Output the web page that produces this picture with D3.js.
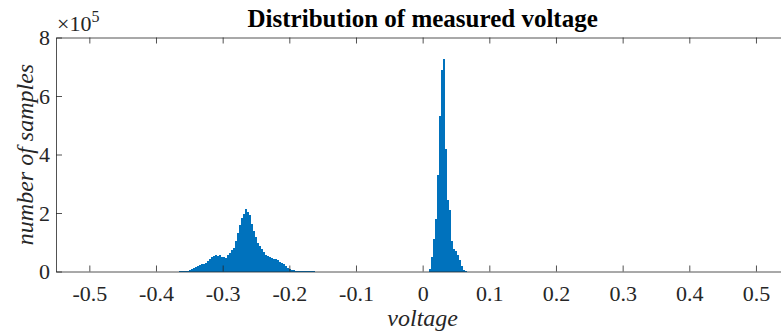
<!DOCTYPE html>
<html>
<head>
<meta charset="utf-8">
<script src="https://cdn.jsdelivr.net/npm/d3@7"></script>
<style>
  html, body { margin: 0; padding: 0; background: #fff; }
  svg { display: block; }
</style>
</head>
<body>
<svg id="chart" width="781" height="335"></svg>
<script>
// ---- data (counts in units of 1e5 samples) ----
const title = "Distribution of measured voltage";
const xLabel = "voltage";
const yLabel = "number of samples";
const binWidth = 0.003;
const leftStart = -0.366;
const leftCounts = [
  0.005, 0.01, 0.015, 0.02, 0.03, 0.05, 0.08, 0.12, 0.15, 0.18,
  0.22, 0.24, 0.27, 0.30, 0.37, 0.42, 0.48, 0.52, 0.55, 0.54,
  0.56, 0.51, 0.49, 0.46, 0.56, 0.64, 0.72, 0.80, 1.05, 1.30,
  1.58, 1.82, 1.98, 2.15, 2.02, 1.92, 1.62, 1.40, 1.18, 0.98,
  0.86, 0.76, 0.66, 0.58, 0.52, 0.49, 0.47, 0.44, 0.43, 0.38,
  0.34, 0.29, 0.24, 0.18, 0.13, 0.08, 0.05, 0.035, 0.03, 0.025,
  0.02, 0.012, 0.01, 0.01, 0.008, 0.006, 0.005, 0.003
];
const rightStart = 0.009;
const rightCounts = [
  0.10, 0.50, 1.10, 1.80, 3.30, 5.30, 6.90, 7.25, 4.20, 2.45,
  2.10, 1.05, 0.78, 0.70, 0.56, 0.40, 0.20, 0.06, 0.01
];
const xTicks = [-0.5, -0.4, -0.3, -0.2, -0.1, 0, 0.1, 0.2, 0.3, 0.4, 0.5];
const yTicks = [0, 2, 4, 6, 8];
const yExponent = "5";

// ---- build bins ----
const bins = [];
leftCounts.forEach((c, i) => bins.push({ x0: leftStart + i * binWidth, v: c }));
rightCounts.forEach((c, i) => bins.push({ x0: rightStart + i * binWidth, v: c }));

// ---- layout ----
const FONT = '"Liberation Serif", "Times New Roman", Times, serif';
const svg = d3.select("#chart").attr("font-family", FONT);
const x = d3.scaleLinear().domain([-0.55, 0.55]).range([56, 56 + 733.3]);
const y = d3.scaleLinear().domain([0, 8]).range([271.5, 37.5]);
const axisColor = "#262626";

// bars
svg.append("g").attr("shape-rendering", "crispEdges")
  .selectAll("rect").data(bins).join("rect")
  .attr("x", d => x(d.x0))
  .attr("width", d => x(d.x0 + binWidth) - x(d.x0))
  .attr("y", d => y(d.v))
  .attr("height", d => y(0) - y(d.v))
  .attr("fill", "#0072BD");

// axes
const fmt = d => String(d);
const xAxisB = d3.axisBottom(x).tickValues(xTicks).tickSizeInner(-6).tickSizeOuter(0).tickPadding(10).tickFormat(fmt);
const gxb = svg.append("g").attr("transform", `translate(0,${y(0)})`).call(xAxisB);
const xAxisT = d3.axisTop(x).tickValues(xTicks).tickSizeInner(-6).tickSizeOuter(0).tickFormat("");
const gxt = svg.append("g").attr("transform", `translate(0,${y(8)})`).call(xAxisT);
const yAxisL = d3.axisLeft(y).tickValues(yTicks).tickSizeInner(-6).tickSizeOuter(0).tickPadding(6).tickFormat(fmt);
const gyl = svg.append("g").attr("transform", `translate(${x(-0.55)},0)`).call(yAxisL);

[gxb, gxt, gyl].forEach(g => {
  g.attr("font-family", FONT).attr("font-size", 22);
  g.select(".domain").attr("stroke", axisColor).attr("stroke-width", 0.8);
  g.selectAll(".tick line").attr("stroke", axisColor).attr("stroke-width", 0.8);
  g.selectAll(".tick text").attr("fill", axisColor).attr("font-family", FONT).attr("font-size", 22);
});
gxb.selectAll(".tick text").attr("dy", null).attr("y", 29);
gyl.selectAll(".tick text").attr("dy", "0.33em").attr("x", -6);

// exponent label
const exp = svg.append("text").attr("x", 57).attr("y", 31).attr("font-size", 22).attr("fill", axisColor);
exp.append("tspan").text("\u00d710");
exp.append("tspan").attr("dy", -9).attr("font-size", 16).text(yExponent);

// title
svg.append("text").attr("x", x(0)).attr("y", 27).attr("text-anchor", "middle")
  .attr("font-size", 25).attr("font-weight", "bold").attr("fill", "#000").text(title);

// x label
svg.append("text").attr("x", x(0)).attr("y", 326).attr("text-anchor", "middle")
  .attr("font-size", 24).attr("font-style", "italic").attr("fill", axisColor).text(xLabel);

// y label
svg.append("text").attr("transform", `translate(33,${(y(0) + y(8)) / 2}) rotate(-90)`)
  .attr("text-anchor", "middle")
  .attr("font-size", 24).attr("font-style", "italic").attr("fill", axisColor).text(yLabel);
</script>
</body>
</html>
